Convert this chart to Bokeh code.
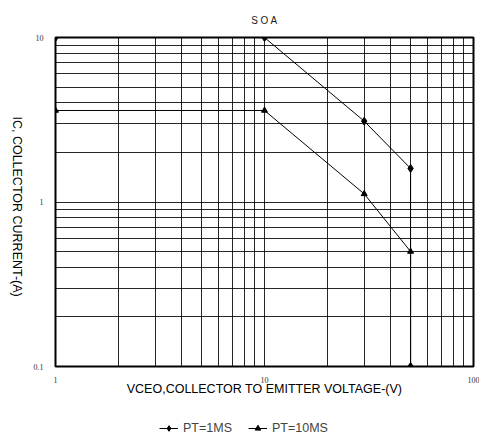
import math
from bokeh.plotting import figure
from bokeh.layouts import column, row
from bokeh.models import FixedTicker, Legend, LegendItem, Label
from bokeh.embed import file_html
from bokeh.resources import INLINE

# data
vce_1ms = [1, 10, 30, 50, 50]
ic_1ms = [10, 10, 3.1, 1.6, 0.1]
vce_10ms = [1, 10, 30, 50, 50]
ic_10ms = [3.6, 3.6, 1.12, 0.5, 0.1]

x_major = [1, 10, 100]
x_minor = [2, 3, 4, 5, 6, 7, 8, 9, 20, 30, 40, 50, 60, 70, 80, 90]
y_major = [0.1, 1, 10]
y_minor = [0.2, 0.3, 0.4, 0.5, 0.6, 0.7, 0.8, 0.9, 2, 3, 4, 5, 6, 7, 8, 9]
x_labels = {1: "1", 10: "10", 100: "100"}
y_labels = {0.1: "0.1", 1: "1", 10: "10"}
y_title = "IC, COLLECTOR CURRENT-(A)"

p = figure(width=449, height=405, x_axis_type="log", y_axis_type="log",
           x_range=(1, 100), y_range=(0.1, 10),
           output_backend="svg", toolbar_location=None,
           min_border_left=23, min_border_right=6, min_border_top=37,
           min_border_bottom=39, title="S O A")

p.title.align = "center"
p.title.text_font = "Liberation Sans"
p.title.text_font_size = "10px"
p.title.text_font_style = "normal"
p.title.text_color = "#222"
p.title.standoff = 24

p.outline_line_color = "black"
p.outline_line_width = 2

p.xaxis.ticker = FixedTicker(ticks=x_major, minor_ticks=x_minor)
p.yaxis.ticker = FixedTicker(ticks=y_major, minor_ticks=y_minor)
p.xaxis.major_label_overrides = {k: v for k, v in x_labels.items()}
p.yaxis.major_label_overrides = {k: v for k, v in y_labels.items()}

for ax in (p.xaxis[0], p.yaxis[0]):
    ax.axis_line_color = None
    ax.major_tick_line_color = None
    ax.minor_tick_line_color = None
    ax.major_label_text_font = "Liberation Serif"
    ax.major_label_text_font_size = "8px"
    ax.major_label_text_color = "#333"
    ax.axis_label_text_font = "Liberation Sans"
    ax.axis_label_text_font_size = "12.5px"
    ax.axis_label_text_font_style = "normal"
    ax.axis_label_text_color = "black"

p.xaxis.axis_label = "VCEO,COLLECTOR TO EMITTER VOLTAGE-(V)"
p.xaxis.major_label_standoff = 4
p.xaxis.axis_label_standoff = -4
p.yaxis.major_label_standoff = 6

for g in (p.xgrid[0], p.ygrid[0]):
    g.grid_line_color = "black"
    g.grid_line_alpha = 0.85
    g.grid_line_width = 1
    g.minor_grid_line_color = "black"
    g.minor_grid_line_alpha = 0.85
    g.minor_grid_line_width = 1

p.line(vce_1ms, ic_1ms, line_color="black", line_width=1)
p.scatter(vce_1ms, ic_1ms, marker="diamond", size=8, color="black")
p.line(vce_10ms, ic_10ms, line_color="black", line_width=1)
p.scatter(vce_10ms, ic_10ms, marker="triangle", size=6, color="black")

# y-axis title strip (reads top to bottom, as in the reference)
r = figure(width=30, height=405, x_range=(0, 1), y_range=(0, 1),
           output_backend="svg", toolbar_location=None, min_border=0)
r.axis.visible = False
r.grid.visible = False
r.outline_line_color = None
r.add_layout(Label(text=y_title, x=0.55, y=0.486, angle=-math.pi / 2,
                   text_align="center", text_baseline="middle",
                   text_font="Liberation Sans", text_font_size="12.5px",
                   text_color="black"))

# legend strip (same series, kept out of view; only the legend shows)
q = figure(width=479, height=39, x_range=(-2, -1), y_range=(-2, -1),
           output_backend="svg", toolbar_location=None,
           min_border=0)
q.axis.visible = False
q.grid.visible = False
q.outline_line_color = None
k1 = q.line(vce_1ms, ic_1ms, line_color="black", line_width=1)
j1 = q.scatter(vce_1ms, ic_1ms, marker="diamond", size=8, color="black")
k2 = q.line(vce_10ms, ic_10ms, line_color="black", line_width=1)
j2 = q.scatter(vce_10ms, ic_10ms, marker="triangle", size=6, color="black")
legend = Legend(items=[LegendItem(label="PT=1MS", renderers=[k1, j1]),
                       LegendItem(label="PT=10MS", renderers=[k2, j2])],
                orientation="horizontal", location=(159, 9),
                border_line_color=None, background_fill_alpha=0,
                label_text_font="Liberation Sans", label_text_font_size="12.5px",
                glyph_width=19, glyph_height=14, label_height=14,
                label_standoff=5, spacing=16, margin=0, padding=0)
q.add_layout(legend)

layout = column(row(r, p, spacing=0), q, spacing=0)
open("out.html", "w").write(file_html(layout, INLINE))
